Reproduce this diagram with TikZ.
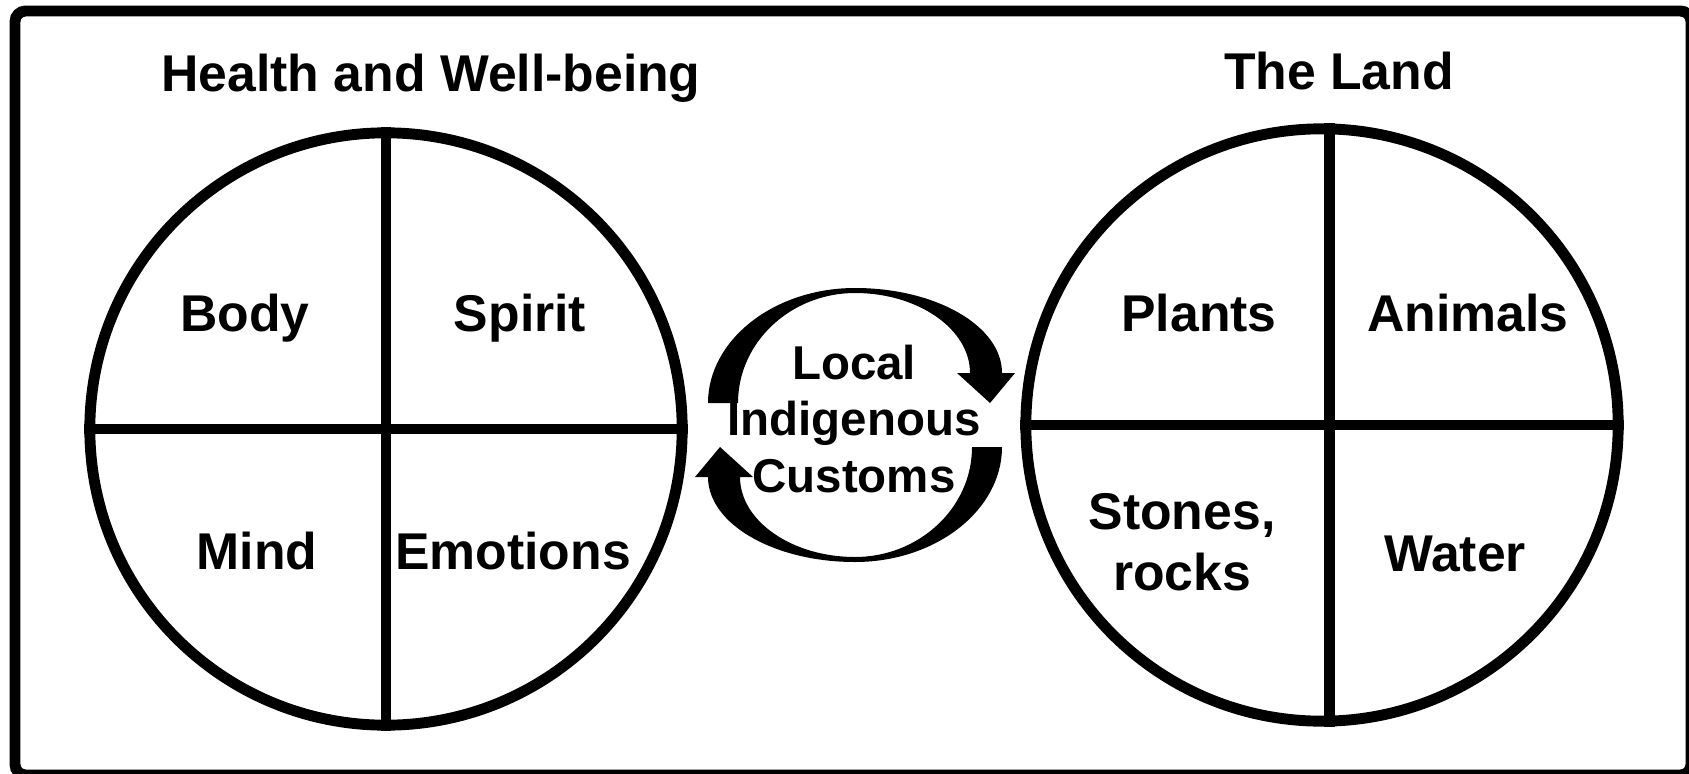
\documentclass[tikz,border=0pt]{standalone}
\usepackage{fontspec}
\setmainfont{Liberation Sans}
\usetikzlibrary{positioning}
\tikzset{quad/.style={circle,draw, line width=3.1pt, inner sep=0pt,minimum size=5.92cm}}
\tikzset{lbl/.style={font=\bfseries\fontsize{14.7}{16.2}\selectfont, align=center, inner sep=0pt}}

\begin{document}
\begin{tikzpicture}[x=0.01cm, y=-0.01cm, divider/.style={line width=3.1pt}]
    \useasboundingbox (0,0) rectangle (1689,773);
    \draw[line width=3.1pt, rounded corners=3pt] (15,11) rectangle (1691,775);

            \node[quad] (health) at (386,429) {};
            \node[quad] (land) at (1322,425) {};

            \draw[divider] (health.north) -- (health.south);
            \draw[divider] (health.west) -- (health.east);
            \draw[divider] ([xshift=2pt]land.north) -- ([xshift=2pt]land.south);
            \draw[divider] (land.west) -- (land.east);

            \node[lbl, anchor=base] (htitle) at (431,92) {Health and Well-being};
            \node[lbl, anchor=base] (ltitle) at (1339,90) {The Land};

            \node[lbl, anchor=base] (body) at (245,331) {Body};
            \node[lbl, anchor=base] (spirit) at (520,331) {Spirit};
            \node[lbl, anchor=base] (mind) at (257,569) {Mind};
            \node[lbl, anchor=base] (emotions) at (513,569) {Emotions};

            \node[lbl, anchor=base] (plants) at (1199,331) {Plants};
            \node[lbl, anchor=base] (animals) at (1468,331) {Animals};
            \node[lbl] (stones) at (1182,542) {Stones,\\[1pt]rocks};
            \node[lbl, anchor=base] (water) at (1455,571) {Water};

            \node[lbl, font=\bfseries\fontsize{13.5}{16.2}\selectfont] (customs) at (854,419) {Local\\Indigenous\\Customs};

            % the two turning arrows round the customs
            \foreach \ang in {0,180}
              \fill[rotate around={\ang:(855,425)}] (708,403) .. controls (708,340) and (774,288) .. (855,288)
                .. controls (936,288) and (1002,326) .. (1002,373)
                -- (1015,373) -- (990,403) -- (957,373) -- (970,373)
                .. controls (970,329) and (918,293) .. (855,293)
                .. controls (791,293) and (738,342) .. (738,403) -- cycle;

\end{tikzpicture}
\end{document}
